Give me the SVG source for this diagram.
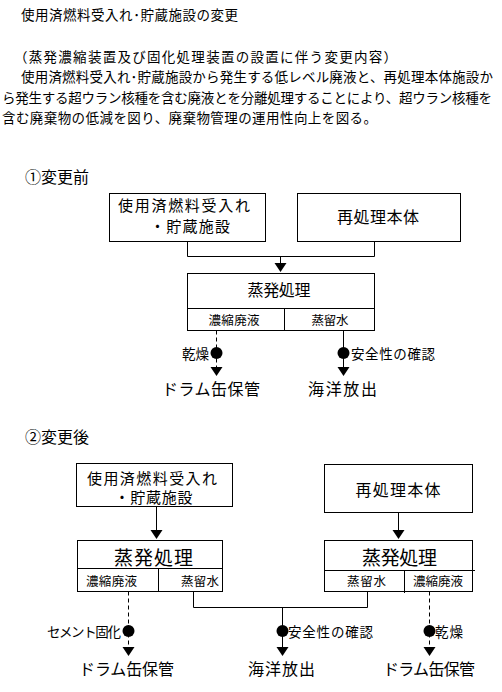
<svg xmlns="http://www.w3.org/2000/svg" width="502" height="692" viewBox="0 0 502 692">
<style>
text{font-family:"Noto Sans CJK JP","Noto Sans CJK SC",sans-serif;fill:#000}
.p{font-size:13.5px}
.h{font-size:16px}
.b{font-size:16px;text-anchor:middle}
.b2{font-size:15px;text-anchor:middle}
.t{font-size:19px;text-anchor:middle}
.s{font-size:12.5px;text-anchor:middle}
.l{font-size:13.5px}
.r{text-anchor:end}
.box{fill:#fff;stroke:#000;stroke-width:1}
.ln{fill:none;stroke:#000;stroke-width:1}
.dash{fill:none;stroke:#000;stroke-width:1;stroke-dasharray:4 3}
</style>
<defs>
<path id="arr" d="M-6,0 L6,0 L0,9 Z" fill="#000"/>
<circle id="dot" r="6" fill="#000"/>
</defs>
<rect width="502" height="692" fill="#fff"/>
<g id="header">
<text class="p" x="21" y="20" textLength="217">使用済燃料受入れ･貯蔵施設の変更</text>
<text class="p" x="14" y="62" textLength="383">（蒸発濃縮装置及び固化処理装置の設置に伴う変更内容）</text>
<text class="p" x="21" y="82" textLength="472">使用済燃料受入れ･貯蔵施設から発生する低レベル廃液と、再処理本体施設か</text>
<text class="p" x="2" y="103" textLength="490">ら発生する超ウラン核種を含む廃液とを分離処理することにより、超ウラン核種を</text>
<text class="p" x="2" y="123" textLength="375">含む廃棄物の低減を図り、廃棄物管理の運用性向上を図る。</text>
</g>
<text class="h" x="25" y="183">①変更前</text>
<text class="h" x="25" y="443">②変更後</text>
<g id="before_fuel">
<rect class="box" x="109.5" y="193.5" width="156" height="48"/>
<text class="b2" x="184" y="211" textLength="132">使用済燃料受入れ</text>
<text class="b2" x="190" y="232" textLength="80">・貯蔵施設</text>
</g>
<g id="before_main">
<rect class="box" x="297.5" y="193.5" width="163" height="48"/>
<text class="b" x="378" y="223" textLength="82">再処理本体</text>
</g>
<g id="before_evap">
<rect class="box" x="187.5" y="273.5" width="187" height="57"/>
<path class="ln" d="M187.5,308.5 H374.5 M284.5,308.5 V330.5"/>
<text class="b" x="279" y="296" textLength="63">蒸発処理</text>
<text class="s" x="234" y="325" textLength="51">濃縮廃液</text>
<text class="s" x="330" y="325" textLength="37">蒸留水</text>
</g>
<g id="before_out">
<text class="l r" x="209" y="359" textLength="27">乾燥</text>
<text class="l" x="351" y="359" textLength="84">安全性の確認</text>
<text class="b" x="211" y="395" textLength="98">ドラム缶保管</text>
<text class="b" x="342.5" y="395" font-size="17" textLength="69">海洋放出</text>
</g>
<g id="after_fuel">
<rect class="box" x="76.5" y="463.5" width="156" height="43"/>
<text class="b2" x="152" y="483.5" textLength="130">使用済燃料受入れ</text>
<text class="b2" x="153.5" y="503" textLength="78">・貯蔵施設</text>
</g>
<g id="after_main">
<rect class="box" x="324.5" y="464.5" width="148" height="48"/>
<text class="b" x="398" y="496" font-size="17" textLength="85">再処理本体</text>
</g>
<g id="after_evap_left">
<rect class="box" x="77.5" y="540.5" width="145" height="51"/>
<path class="ln" d="M77.5,568.5 H222.5 M158.5,568.5 V591.5"/>
<text class="t" x="153.5" y="565" textLength="79">蒸発処理</text>
<text class="s" x="111.5" y="586" textLength="51">濃縮廃液</text>
<text class="s" x="200" y="586" textLength="38">蒸留水</text>
</g>
<g id="after_evap_right">
<rect class="box" x="324.5" y="540.5" width="148" height="51"/>
<path class="ln" d="M324.5,570.5 H475 M404.5,570.5 V593"/>
<text class="t" x="399.5" y="565" textLength="75">蒸発処理</text>
<text class="s" x="366.5" y="586" textLength="39">蒸留水</text>
<text class="s" x="438" y="586" textLength="50">濃縮廃液</text>
</g>
<g id="after_out">
<text class="l r" x="121" y="637" textLength="74">セメント固化</text>
<text class="l" x="288" y="637" textLength="85">安全性の確認</text>
<text class="l" x="435" y="637" textLength="28">乾燥</text>
<text class="b" x="126.5" y="675" textLength="95">ドラム缶保管</text>
<text class="b" x="281.5" y="675" font-size="17" textLength="67">海洋放出</text>
<text class="b" x="429" y="675" textLength="92">ドラム缶保管</text>
</g>
<g id="connectors">
<path class="ln" d="M187.5,241.5 V256.5 H374.5 V241.5 M280.5,256.5 V264"/>
<use href="#arr" x="280.5" y="263"/>
<path class="dash" d="M216.5,330.5 V368"/>
<use href="#dot" x="216.5" y="353"/>
<use href="#arr" x="216.5" y="367"/>
<path class="ln" d="M343.5,330.5 V368"/>
<use href="#dot" x="343.5" y="353"/>
<use href="#arr" x="343.5" y="367"/>
<path class="ln" d="M156.5,506.5 V531"/>
<use href="#arr" x="156.5" y="530"/>
<path class="ln" d="M398.5,512.5 V531"/>
<use href="#arr" x="398.5" y="530"/>
<path class="dash" d="M128.5,591.5 V648"/>
<use href="#dot" x="128.5" y="631"/>
<use href="#arr" x="128.5" y="647"/>
<path class="ln" d="M193.5,591.5 V607.5 H367.5 V591.5 M282.5,607.5 V648"/>
<use href="#dot" x="282.5" y="631"/>
<use href="#arr" x="282.5" y="647"/>
<path class="dash" d="M429.5,591.5 V648"/>
<use href="#dot" x="429.5" y="631"/>
<use href="#arr" x="429.5" y="647"/>
</g>
</svg>
